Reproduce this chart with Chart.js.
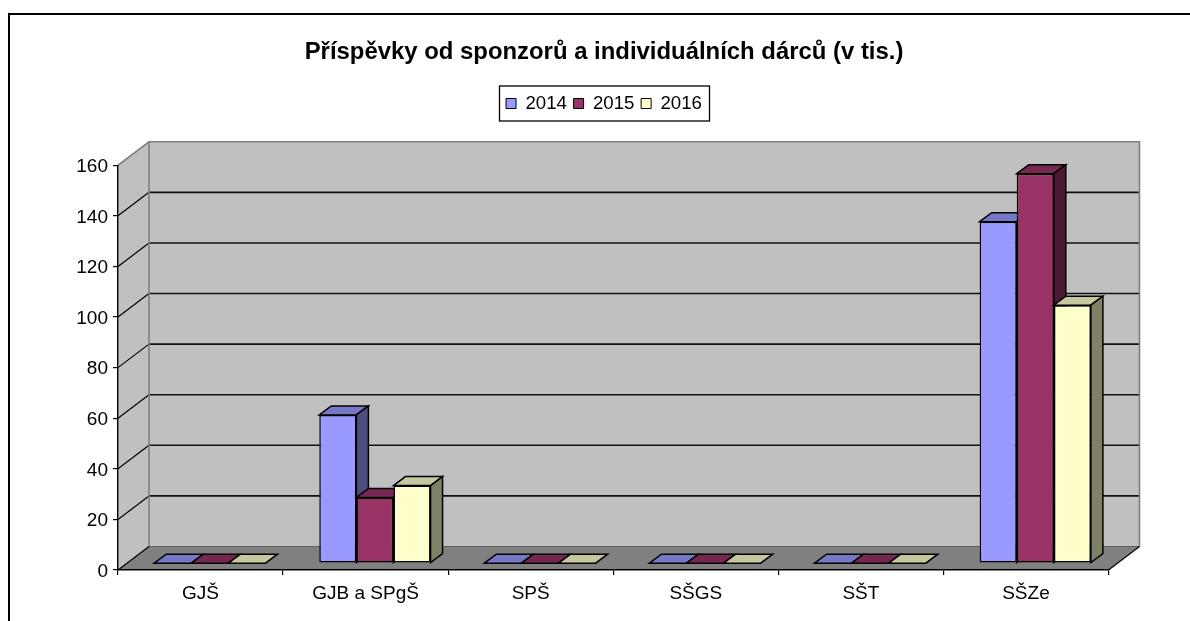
<!DOCTYPE html>
<html><head><meta charset="utf-8">
<script src="https://cdn.jsdelivr.net/npm/chart.js@4/dist/chart.umd.min.js"></script>
<style>html,body{margin:0;padding:0;background:#fff;overflow:hidden}canvas{display:block}</style>
</head><body><canvas id="c" width="1190" height="621"></canvas>
<script>
const categories = ['GJŠ','GJB a SPgŠ','SPŠ','SŠGS','SŠT','SŠZe'];
const seriesNames = ['2014','2015','2016'];
const values2014 = [0,58.6,0,0,0,135];
const values2015 = [0,26,0,0,0,154];
const values2016 = [0,30.7,0,0,0,102];
const colors = ['#9999FF','#993366','#FFFFCC'];
const titleText = 'Příspěvky od sponzorů a individuálních dárců (v tis.)';
const FONT = '"Liberation Sans", Arial, sans-serif';
const WALL = {dx:31, dy:-23.5}, BAR_POS = {dx:9.3, dy:-6.8}, BAR_DEPTH = {dx:12, dy:-9};
const SPACER_TOP = 42.4, SPACER_RIGHT = 81.5;

function shade(hex,f){
  const n=parseInt(hex.slice(1),16);
  return `rgb(${Math.round((n>>16&255)*f)},${Math.round((n>>8&255)*f)},${Math.round((n&255)*f)})`;
}
function poly(ctx,pts,fill,stroke,lw){
  ctx.beginPath();
  pts.forEach((p,i)=> i?ctx.lineTo(p[0],p[1]):ctx.moveTo(p[0],p[1]));
  ctx.closePath();
  if(fill){ctx.fillStyle=fill;ctx.fill();}
  if(stroke){ctx.strokeStyle=stroke;ctx.lineWidth=lw;ctx.stroke();}
}
function line(ctx,x1,y1,x2,y2,c,lw){
  ctx.beginPath();ctx.moveTo(x1,y1);ctx.lineTo(x2,y2);ctx.strokeStyle=c;ctx.lineWidth=lw;ctx.stroke();
}

const spacer = {
  id:'spacer',
  beforeInit(chart){
    Chart.layouts.addBox(chart,{
      position:'top',weight:1,fullSize:true,options:{},
      isHorizontal(){return true;},
      update(w){this.width=w;this.height=SPACER_TOP;},
      draw(){},_layers(){return [];}
    });
    Chart.layouts.addBox(chart,{
      position:'right',weight:1,fullSize:false,options:{},
      isHorizontal(){return false;},
      update(w,h){this.width=SPACER_RIGHT;this.height=h;},
      draw(){},_layers(){return [];}
    });
  }
};

const scene = {
  id:'scene',
  beforeDraw(chart){
    const {ctx,scales:{x,y},chartArea:a} = chart;
    const L=a.left,R=a.right,T=y.getPixelForValue(160),B=y.getPixelForValue(0),{dx,dy}=WALL;
    ctx.save();
    // frame (the page crops the right and bottom of it)
    ctx.beginPath();ctx.moveTo(9,621);ctx.lineTo(9,14);ctx.lineTo(1190,14);
    ctx.strokeStyle='#000';ctx.lineWidth=2;ctx.stroke();
    // walls and floor
    poly(ctx,[[L+dx,T+dy],[R+dx,T+dy],[R+dx,B+dy],[L+dx,B+dy]],'#C0C0C0');
    poly(ctx,[[L,T],[L+dx,T+dy],[L+dx,B+dy],[L,B]],'#C0C0C0');
    poly(ctx,[[L,B],[L+dx,B+dy],[R+dx,B+dy],[R,B]],'#808080');
    y.ticks.forEach(t=>{
      if(t.value===0||t.value===160) return;
      const py=y.getPixelForValue(t.value);
      line(ctx,L,py,L+dx,py+dy,'#000',1.2);
      line(ctx,L+dx,py+dy,R+dx,py+dy,'#111',1.6);
    });
    // wall outlines
    ctx.strokeStyle='#808080';ctx.lineWidth=1.6;
    ctx.beginPath();ctx.moveTo(L,T);ctx.lineTo(L+dx,T+dy);ctx.lineTo(R+dx,T+dy);ctx.lineTo(R+dx,B+dy);ctx.stroke();
    ctx.beginPath();ctx.moveTo(L+dx,T+dy);ctx.lineTo(L+dx,B+dy);ctx.stroke();
    line(ctx,L+dx,B+dy,R+dx,B+dy,'#606060',1.2);
    line(ctx,L,B,L+dx,B+dy,'#000',1.2);
    line(ctx,R,B,R+dx,B+dy,'#000',1.2);
    // legend frame
    ctx.strokeStyle='#000';ctx.lineWidth=1.3;
    ctx.strokeRect(499.5,86,210,35);
    ctx.restore();
  },
  beforeDatasetsDraw(chart){
    const ctx=chart.ctx;
    ctx.save();
    ctx.translate(BAR_POS.dx,BAR_POS.dy);
    const {dx,dy}=BAR_DEPTH;
    chart.data.labels.forEach((_,i)=>{
      chart.data.datasets.forEach((ds,d)=>{
        const el=chart.getDatasetMeta(d).data[i];
        const l=el.x-el.width/2,r=el.x+el.width/2,t=el.y,b=el.base;
        poly(ctx,[[l,t],[l+dx,t+dy],[r+dx,t+dy],[r,t]],shade(colors[d],.78),'#000',1.5);
        if(b>t){
          poly(ctx,[[r,t],[r+dx,t+dy],[r+dx,b+dy],[r,b]],shade(colors[d],.5),'#000',1.5);
          el.draw(ctx);
        }
      });
    });
    ctx.restore();
    return false;
  }
};

new Chart(document.getElementById('c'),{
  type:'bar',
  data:{
    labels:categories,
    datasets:[values2014,values2015,values2016].map((v,i)=>({
      label:seriesNames[i],data:v,backgroundColor:colors[i],
      borderColor:'#000',borderWidth:1.5,borderSkipped:false,
      categoryPercentage:0.674,barPercentage:1
    }))
  },
  options:{
    responsive:false,animation:false,
    layout:{autoPadding:false,padding:{left:18,right:0,top:0,bottom:0}},
    font:{family:FONT},
    plugins:{
      tooltip:{enabled:false},
      title:{display:true,text:titleText,color:'#000',
        font:{family:FONT,size:23.9,weight:'bold',lineHeight:1.2},
        padding:{top:37.6,bottom:21.2}},
      legend:{display:true,position:'top',
        labels:{color:'#000',font:{family:FONT,size:18.67},boxWidth:10,boxHeight:10,padding:6.7,
          generateLabels(chart){
            return chart.data.datasets.map((ds,i)=>({text:ds.label,fillStyle:ds.backgroundColor,strokeStyle:'#000',lineWidth:1,datasetIndex:i,fontColor:'#000'}));
          }}}
    },
    scales:{
      x:{grid:{drawOnChartArea:false,drawTicks:true,tickLength:5,color:'#000',lineWidth:1.2},
         border:{display:true,color:'#000',width:1.4},
         ticks:{color:'#000',font:{family:FONT,size:19},padding:7,maxRotation:0,autoSkip:false},
         afterFit(s){s.height=51;}},
      y:{min:0,max:160,
         grid:{drawOnChartArea:false,drawTicks:true,tickLength:5,color:'#000',lineWidth:1.2},
         border:{display:true,color:'#000',width:1.4},
         ticks:{stepSize:20,color:'#000',font:{family:FONT,size:19},padding:5,labelOffset:1.5},
         afterFit(s){s.width=100;}}
    }
  },
  plugins:[spacer,scene]
});
</script></body></html>
